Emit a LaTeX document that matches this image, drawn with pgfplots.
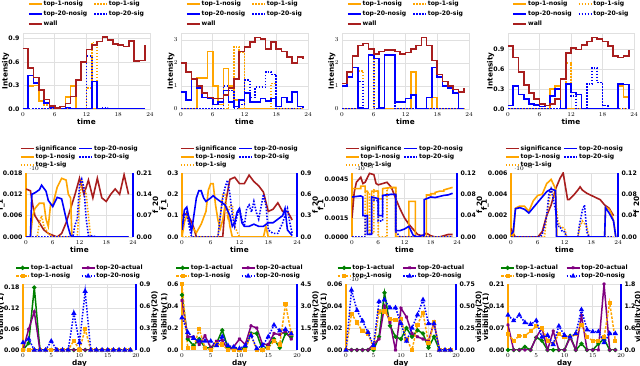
\documentclass[border=0pt]{standalone}
\usepackage{fontspec}
\setmainfont{DejaVu Sans}
\usepackage{pgfplots}
\pgfplotsset{compat=1.18}
\definecolor{orC}{RGB}{255,165,0}
\definecolor{blC}{RGB}{0,0,255}
\definecolor{wallC}{RGB}{168,30,30}
\definecolor{grC}{RGB}{0,128,0}
\definecolor{puC}{RGB}{128,0,128}
\newcommand\tfs{\fontsize{6.2}{7}\bfseries\selectfont}
\newcommand\lfs{\fontsize{7.3}{8.5}\bfseries\selectfont}
\newcommand\gfs{\fontsize{6.1}{7}\bfseries\selectfont}
\pgfplotsset{
  base/.style={scale only axis, anchor=south west, axis line style={black!12},
    grid=major, grid style={black!12, line width=0.7pt}, major tick length=0pt,
    tick label style={font=\tfs}, label style={font=\lfs},
    xlabel shift=-4pt, ylabel shift=-7.5pt,
    legend cell align=left, legend columns=2,
    legend style={draw=none, fill=none, font=\gfs, inner sep=0pt, row sep=1pt,
      nodes={inner sep=1pt}},
    legend image code/.code={\draw[mark repeat=2,mark phase=2,#1] plot coordinates {(0pt,0pt) (6.5pt,0pt) (13pt,0pt)};}},
  rside/.style={scale only axis, anchor=south west, axis x line=none, axis y line*=right,
    y axis line style={blC, line width=1.8pt}, major tick length=0pt,
    tick label style={font=\tfs}, label style={font=\lfs}, ymin=0, ylabel shift=-6pt,
    legend cell align=left, legend columns=2,
    legend style={draw=none, fill=none, font=\gfs, inner sep=0pt, row sep=0.2pt,
      nodes={inner sep=1pt}},
    legend image code/.code={\draw[mark repeat=2,mark phase=2,#1] plot coordinates {(0pt,0pt) (6.5pt,0pt) (13pt,0pt)};}},
  r1/.style={base, xmin=0, xmax=24, xtick={0,6,...,24}, xlabel=time, ylabel=Intensity, ymin=0,
    legend style={at={(0.5,1.44)}, anchor=north, row sep=2pt,
      /tikz/every even column/.append style={column sep=5pt}}},
  r2/.style={base, xmin=0, xmax=24, xtick={0,6,...,24}, xlabel=time, ymin=0,
    ylabel={f\_1}, separate axis lines, y axis line style={orC, line width=1.8pt}},
  r2R/.style={rside, xmin=0, xmax=24, ylabel={f\_20},
    legend style={at={(0.5,1.45)}, anchor=north,
      /tikz/every even column/.append style={column sep=1pt}}},
  r3/.style={base, xmin=0, xmax=20, xtick={0,5,...,20}, xlabel=day, ymin=0,
    ylabel={visibility(1)}, separate axis lines, y axis line style={orC, line width=1.8pt}},
  r3R/.style={rside, xmin=0, xmax=20, ylabel={visibility(20)},
    legend style={at={(0.5,1.31)}, anchor=north,
      /tikz/every even column/.append style={column sep=7pt}}},
  wl/.style={wallC, line width=1.6pt, mark=none},
  os/.style={orC, line width=1.6pt, mark=none},
  od/.style={orC, line width=1.6pt, dash pattern=on 1.5pt off 1.5pt, mark=none},
  bs/.style={blC, line width=1.6pt, mark=none},
  bd/.style={blC, line width=1.6pt, dash pattern=on 1.5pt off 1.5pt, mark=none},
  ga/.style={grC, line width=1.5pt, mark=*, mark size=1.3pt},
  pa/.style={puC, line width=1.5pt, mark=x, mark size=1.6pt},
  on/.style={orC, line width=1.5pt, dash pattern=on 2.5pt off 1.5pt, mark=square*, mark size=1.3pt, mark options={solid}},
  bn/.style={blC, line width=1.5pt, dash pattern=on 1.5pt off 1.5pt, mark=triangle*, mark size=1.6pt, mark options={solid}},
}
\begin{document}
\begin{tikzpicture}
\useasboundingbox (0,0) rectangle (640pt,366pt);
%% ---------- row 1 ----------
\begin{axis}[r1, at={(23pt,257pt)}, width=127pt, height=76pt, ymax=0.97,
  ytick={0,0.3,0.6,0.9}, yticklabels={0.0,0.3,0.6,0.9}]
\addplot[os, const plot] coordinates {(0,0)(1,0.29)(2,0.30)(3,0.10)(4,0.07)(5,0.02)(6,0)(7,0)(8,0.15)(9,0.29)(10,0)(11,0)(12,0)(13,0)(14,0)(15,0)(16,0)(17,0)(18,0)(19,0)(20,0)(21,0)(22,0)(23,0)};
\addlegendentry{top-1-nosig}
\addplot[od, const plot] coordinates {(0,0)(1,0)(2,0)(3,0)(4,0.05)(5,0)(6,0)(7,0)(8,0)(9,0)(10,0)(11,0)(12,0.27)(13,0.85)(14,0)(15,0)(16,0)(17,0)(18,0)(19,0)(20,0)(21,0)(22,0)(23,0)};
\addlegendentry{top-1-sig}
\addplot[bs, const plot] coordinates {(0,0)(1,0.43)(2,0.33)(3,0.25)(4,0.08)(5,0.02)(6,0)(7,0)(8,0.02)(9,0)(10,0)(11,0)(12,0)(13,0.35)(14,0)(15,0)(16,0)(17,0)(18,0)(19,0)(20,0)(21,0)(22,0)(23,0)};
\addlegendentry{top-20-nosig}
\addplot[bd, const plot] coordinates {(0,0)(1,0)(2,0)(3,0)(4,0)(5,0)(6,0)(7,0)(8,0)(9,0)(10,0)(11,0)(12,0.68)(13,0.35)(14,0)(15,0.01)(16,0)(17,0)(18,0)(19,0)(20,0)(21,0)(22,0)(23,0)};
\addlegendentry{top-20-sig}
\addplot[wl, const plot] coordinates {(0,0.77)(1,0.52)(2,0.40)(3,0.24)(4,0.12)(5,0.04)(6,0.01)(7,0.03)(8,0.07)(9,0.16)(10,0.37)(11,0.60)(12,0.76)(13,0.82)(14,0.86)(15,0.92)(16,0.88)(17,0.83)(18,0.82)(19,0.80)(20,0.87)(21,0.61)(22,0.62)(23,0.82)};
\addlegendentry{wall}
\end{axis}

\begin{axis}[r1, at={(181pt,257pt)}, width=127pt, height=76pt, ymax=3.3,
  ytick={0,1,2,3}]
\addplot[os, const plot] coordinates {(0,0)(1,0)(2,0)(3,1.35)(4,1.35)(5,2.5)(6,1.0)(7,0.2)(8,1.75)(9,1.0)(10,0.4)(11,0)(12,0)(13,0)(14,0)(15,0)(16,0)(17,0)(18,0)(19,0)(20,0)(21,0)(22,0)(23,0)};
\addlegendentry{top-1-nosig}
\addplot[od, const plot] coordinates {(0,0)(1,0)(2,0)(3,0)(4,0)(5,0)(6,0)(7,0)(8,0)(9,0.3)(10,2.7)(11,2.45)(12,0)(13,0)(14,0)(15,0)(16,0)(17,1.1)(18,0)(19,0)(20,0)(21,0)(22,0)(23,0)};
\addlegendentry{top-1-sig}
\addplot[bs, const plot] coordinates {(0,0.75)(1,0.4)(2,1.3)(3,0.9)(4,0.5)(5,0.45)(6,0.2)(7,0.3)(8,0.8)(9,0.3)(10,0.1)(11,0.4)(12,0.7)(13,0.3)(14,0.3)(15,0.45)(16,0.35)(17,0.45)(18,0.1)(19,0.5)(20,0.3)(21,0.75)(22,0.1)(23,0.05)};
\addlegendentry{top-20-nosig}
\addplot[bd, const plot] coordinates {(0,0)(1,0)(2,0)(3,0)(4,0)(5,0)(6,0)(7,0)(8,1.0)(9,0.8)(10,0)(11,0.2)(12,1.25)(13,0.5)(14,0.95)(15,0.95)(16,1.6)(17,1.5)(18,0)(19,0)(20,0)(21,0)(22,0)(23,0)};
\addlegendentry{top-20-sig}
\addplot[wl, const plot] coordinates {(0,2.0)(1,1.6)(2,1.3)(3,1.0)(4,0.7)(5,0.5)(6,0.45)(7,0.45)(8,0.6)(9,0.9)(10,1.3)(11,2.5)(12,2.7)(13,2.9)(14,3.1)(15,3.05)(16,2.6)(17,2.9)(18,2.6)(19,2.5)(20,2.25)(21,2.0)(22,2.25)(23,2.15)};
\addlegendentry{wall}
\end{axis}

\begin{axis}[r1, at={(342pt,257pt)}, width=127pt, height=76pt, ymax=3.3,
  ytick={0,1,2,3}]
\addplot[os, const plot] coordinates {(0,0)(1,0)(2,0)(3,0)(4,0)(5,2.35)(6,2.2)(7,0)(8,0)(9,0)(10,0)(11,0)(12,0)(13,1.6)(14,0)(15,0)(16,0)(17,0.5)(18,0)(19,0)(20,0)(21,0)(22,0)(23,0)};
\addlegendentry{top-1-nosig}
\addplot[od, const plot] coordinates {(0,0)(1,0)(2,0)(3,1.65)(4,0)(5,2.35)(6,0)(7,0)(8,2.35)(9,2.35)(10,0)(11,0)(12,0)(13,0)(14,0)(15,0)(16,0)(17,0)(18,0)(19,0)(20,0)(21,0)(22,0)(23,0)};
\addlegendentry{top-1-sig}
\addplot[bs, const plot] coordinates {(0,1.0)(1,1.4)(2,1.8)(3,0.05)(4,0)(5,2.35)(6,2.2)(7,0.05)(8,2.35)(9,2.35)(10,0.3)(11,0.3)(12,0.45)(13,0.6)(14,0)(15,0)(16,0.5)(17,1.8)(18,1.4)(19,1.0)(20,0.9)(21,0.7)(22,0)(23,0)};
\addlegendentry{top-20-nosig}
\addplot[bd, const plot] coordinates {(0,0)(1,0)(2,0)(3,1.2)(4,0)(5,2.35)(6,0)(7,0)(8,2.35)(9,2.35)(10,0)(11,0)(12,0)(13,0)(14,0)(15,0)(16,0)(17,0)(18,0)(19,0)(20,0)(21,0)(22,0)(23,0)};
\addlegendentry{top-20-sig}
\addplot[wl, const plot] coordinates {(0,1.1)(1,1.6)(2,2.3)(3,2.75)(4,2.85)(5,2.6)(6,2.4)(7,2.5)(8,2.55)(9,2.55)(10,2.5)(11,2.4)(12,2.45)(13,2.6)(14,2.75)(15,3.1)(16,2.75)(17,2.1)(18,1.5)(19,1.2)(20,1.0)(21,0.85)(22,0.75)(23,0.9)};
\addlegendentry{wall}
\end{axis}

\begin{axis}[r1, at={(508pt,257pt)}, width=126pt, height=76pt, ymax=1.15,
  ytick={0,0.3,0.6,0.9}, yticklabels={0.0,0.3,0.6,0.9}]
\addplot[os, const plot] coordinates {(0,0)(1,0)(2,0)(3,0)(4,0)(5,0)(6,0)(7,0)(8,0.3)(9,0.35)(10,0)(11,0)(12,0)(13,0)(14,0)(15,0)(16,0)(17,0)(18,0)(19,0)(20,0)(21,0.35)(22,0.18)(23,0)};
\addlegendentry{top-1-nosig}
\addplot[od, const plot] coordinates {(0,0)(1,0)(2,0)(3,0)(4,0)(5,0)(6,0)(7,0)(8,0)(9,0)(10,0)(11,0.7)(12,0.25)(13,0.22)(14,0)(15,0)(16,0)(17,0)(18,0)(19,0)(20,0)(21,0)(22,0)(23,0)};
\addlegendentry{top-1-sig}
\addplot[bs, const plot] coordinates {(0,0.05)(1,0.35)(2,0.22)(3,0.15)(4,0.08)(5,0.06)(6,0.04)(7,0.05)(8,0.2)(9,0.3)(10,0)(11,0.38)(12,0.25)(13,0.22)(14,0)(15,0)(16,0)(17,0)(18,0)(19,0)(20,0)(21,0.38)(22,0.37)(23,0)};
\addlegendentry{top-20-nosig}
\addplot[bd, const plot] coordinates {(0,0)(1,0)(2,0)(3,0)(4,0)(5,0)(6,0)(7,0)(8,0)(9,0)(10,0)(11,0.38)(12,0.2)(13,0)(14,0)(15,0.38)(16,0.62)(17,0.4)(18,0.05)(19,0)(20,0)(21,0)(22,0)(23,0)};
\addlegendentry{top-20-sig}
\addplot[wl, const plot] coordinates {(0,0.95)(1,0.78)(2,0.56)(3,0.36)(4,0.24)(5,0.15)(6,0.08)(7,0.05)(8,0.08)(9,0.15)(10,0.45)(11,0.85)(12,0.92)(13,0.90)(14,0.97)(15,1.02)(16,1.08)(17,1.06)(18,1.02)(19,0.95)(20,0.80)(21,0.78)(22,0.80)(23,0.90)};
\addlegendentry{wall}
\end{axis}

%% ---------- row 2 ----------
\begin{axis}[r2, at={(26pt,129pt)}, width=107pt, height=64pt, ymax=0.018,
  ytick={0,0.006,0.012,0.018}, yticklabels={0.000,0.006,0.012,0.018}, ylabel shift=-8.5pt]
\addplot[wl] coordinates {(0,0.0135)(1,0.013)(1.5,0.009)(2,0.006)(3,0.004)(4,0.002)(5,0.001)(6,0.0005)(7,0)(8,0.001)(9,0.004)(10,0.008)(11,0.012)(12,0.0165)(13,0.012)(14,0.016)(15,0.011)(16,0.0165)(17,0.011)(18,0.010)(19,0.012)(20,0.0135)(21,0.012)(22,0.0175)(23,0.012)};
\addplot[os] coordinates {(0,0)(1,0)(1.5,0.006)(2,0.008)(3,0.0095)(4,0.0095)(4.5,0.005)(5,0.003)(5.5,0.009)(6,0.009)(7,0.014)(8,0.0165)(9,0.016)(9.5,0.012)(10,0.011)(10.3,0)(23,0)};
\addplot[od] coordinates {(0,0)(2.5,0)(3,0.004)(3.5,0.006)(4,0.003)(5,0.001)(6,0)(11.5,0)(12,0.010)(12.5,0.016)(13,0.014)(13.5,0.012)(14,0.006)(14.5,0)(23,0)};
\end{axis}
\begin{axis}[r2R, at={(26pt,129pt)}, width=107pt, height=64pt, ymax=0.21,
  ytick={0,0.07,0.14,0.21}, yticklabels={0.00,0.07,0.14,0.21}]
\addlegendimage{wl}\addlegendentry{significance}
\addplot[bs] coordinates {(0,0)(1,0)(1.3,0.14)(2,0.145)(3,0.155)(3.5,0.17)(4,0.16)(4.5,0.15)(5,0.12)(6,0.10)(7,0.13)(8,0.125)(9,0.06)(9.5,0.03)(10,0.005)(10.5,0)(23,0)};
\addlegendentry{top-20-nosig}
\addlegendimage{os}\addlegendentry{top-1-nosig}
\addplot[bd] coordinates {(0,0)(10.5,0)(11,0.04)(11.5,0.06)(12,0.17)(12.5,0.19)(13,0.16)(13.5,0.06)(14,0.005)(15,0.003)(16,0)(23,0)};
\addlegendentry{top-20-sig}
\addlegendimage{od}\addlegendentry{top-1-sig}
\end{axis}

\begin{axis}[r2, at={(182pt,129pt)}, width=115pt, height=64pt, ymax=0.3,
  ytick={0,0.1,0.2,0.3}, yticklabels={0.0,0.1,0.2,0.3}]
\addplot[wl] coordinates {(0,0.1)(1,0.11)(2,0.07)(2.5,0.04)(3,0)(8.5,0)(9,0.15)(10,0.27)(11,0.28)(12,0.25)(13,0.25)(14,0.29)(15,0.26)(16,0.24)(17,0.21)(18,0.12)(19,0.13)(20,0.16)(21,0.12)(22,0.12)(23,0.08)};
\addplot[os] coordinates {(0,0)(0.5,0.07)(1,0.1)(1.5,0.07)(2,0.05)(3,0.02)(4,0.06)(5,0.12)(5.5,0.22)(6,0.25)(6.5,0.25)(7,0.15)(7.5,0.08)(8,0.04)(8.5,0.08)(9,0.15)(9.5,0.13)(10,0.05)(10.5,0)(17,0)(17.5,0.05)(18,0)(23,0)};
\addplot[od] coordinates {(0,0)(7.5,0)(8,0.1)(8.5,0.2)(9,0.2)(9.5,0.1)(10,0.15)(10.5,0.15)(11,0.05)(12,0)(23,0)};
\end{axis}
\begin{axis}[r2R, at={(182pt,129pt)}, width=115pt, height=64pt, ymax=0.9,
  ytick={0,0.3,0.6,0.9}, yticklabels={0.0,0.3,0.6,0.9}]
\addlegendimage{wl}\addlegendentry{significance}
\addplot[bs] coordinates {(0,0.1)(0.5,0.38)(1,0.42)(1.5,0.25)(2,0.08)(3,0.55)(3.5,0.65)(4,0.65)(4.5,0.55)(5,0.5)(6,0.55)(6.5,0.58)(7,0.55)(8,0.5)(9,0.45)(10,0.3)(10.5,0.15)(11,0.2)(11.5,0.35)(12,0.4)(12.5,0.2)(13,0.15)(14,0.15)(15,0.18)(16,0.15)(17,0.15)(18,0.2)(19,0.2)(20,0.25)(21,0.3)(21.5,0.4)(22,0.1)(23,0.02)};
\addlegendentry{top-20-nosig}
\addlegendimage{os}\addlegendentry{top-1-nosig}
\addplot[bd] coordinates {(0,0.1)(0.5,0.3)(1,0.35)(1.5,0.15)(2,0)(7.5,0)(8,0.3)(8.5,0.55)(9,0.7)(9.5,0.8)(10,0.6)(10.5,0.3)(11,0.15)(11.5,0.3)(12,0.4)(12.5,0.25)(13,0.15)(13.5,0.4)(14,0.45)(14.5,0.35)(15,0.5)(15.5,0.35)(16,0.25)(17,0.6)(17.5,0.45)(18,0.1)(19,0.05)(20,0.05)(21,0.2)(22,0.4)(22.5,0.2)(23,0.05)};
\addlegendentry{top-20-sig}
\addlegendimage{od}\addlegendentry{top-1-sig}
\end{axis}

\begin{axis}[r2, at={(352pt,129pt)}, width=105pt, height=64pt, ymax=0.00503,
  ytick={0,0.0015,0.003,0.0045}, yticklabels={0.0000,0.0015,0.0030,0.0045}]
\addplot[wl] coordinates {(0,0.0015)(0.5,0.0035)(1,0.0043)(2,0.0047)(2.5,0.0042)(3,0.0043)(4,0.0050)(5,0.0049)(5.5,0.0042)(6,0.0041)(7,0.0042)(8,0.0043)(9,0.0039)(10,0.0030)(11,0.0022)(12,0.0015)(13,0.0010)(14,0.0006)(15,0.0002)(16,0.0001)(17,0.0003)(18,0.0001)(19,0)(20,0)(21,0.0001)(22,0.0002)(23,0.0002)};
\addplot[os] coordinates {(0,0.0038)(2,0.0038)(2,0.004)(3,0.004)(3,0.0036)(3.5,0.0036)(3.5,0.0005)(4.5,0.0005)(4.5,0.0036)(6,0.0036)(6,0.003)(7,0.003)(7,0.0038)(9,0.0039)(10,0.0039)(10,0)(13,0)(13,0.0028)(14.5,0.0028)(14.5,0)(17,0)(17,0.0033)(18,0.0033)(18,0.0034)(19,0.0034)(19,0.0035)(20,0.0036)(21,0.0036)(21,0.0037)(22,0.0038)(23,0.0039)};
\addplot[od] coordinates {(0,0)(3,0)(3,0.0035)(4,0.0035)(4,0.0003)(5,0.0003)(5,0.0037)(6,0.0036)(6,0)(8,0)(8,0.0038)(10,0.0039)(10,0)(23,0)};
\end{axis}
\begin{axis}[r2R, at={(352pt,129pt)}, width=105pt, height=64pt, ymax=0.12,
  ytick={0,0.04,0.08,0.12}, yticklabels={0.00,0.04,0.08,0.12}]
\addlegendimage{wl}\addlegendentry{significance}
\addplot[bs] coordinates {(0,0.075)(2,0.077)(2.5,0.075)(2.5,0.04)(3.5,0.04)(3.5,0.005)(4.5,0.005)(4.5,0.075)(6,0.072)(6,0.04)(7,0.04)(7,0.078)(9,0.08)(10,0.08)(10,0.012)(11,0.012)(12,0.015)(13,0.02)(14,0.003)(15,0)(16,0.003)(16.5,0.003)(16.5,0.07)(18,0.075)(19,0.074)(20,0.076)(21,0.078)(22,0.079)(23,0.082)};
\addlegendentry{top-20-nosig}
\addlegendimage{os}\addlegendentry{top-1-nosig}
\addplot[bd] coordinates {(0,0)(3,0)(3,0.04)(3.5,0.04)(3.5,0.005)(4.5,0.005)(4.5,0.07)(6,0.068)(6,0.03)(7,0.03)(7,0.077)(9,0.08)(10,0.08)(10,0.01)(11,0)(23,0)};
\addlegendentry{top-20-sig}
\addlegendimage{od}\addlegendentry{top-1-sig}
\end{axis}

\begin{axis}[r2, at={(511pt,129pt)}, width=107pt, height=64pt, ymax=0.006,
  ytick={0,0.002,0.004,0.006}, yticklabels={0.000,0.002,0.004,0.006}]
\addplot[wl] coordinates {(0,0.0008)(0.5,0.0003)(1,0)(6,0)(7,0.0005)(8,0.002)(9,0.003)(10,0.0045)(11,0.0055)(11.7,0.006)(12.3,0.0045)(12.7,0.0035)(13,0.0035)(14,0.0039)(15,0.0044)(15.5,0.0047)(16,0.0044)(17,0.0041)(18,0.0039)(19,0.0037)(20,0.0035)(21,0.0030)(22,0.0027)(23,0.002)};
\addplot[os] coordinates {(0,0.0003)(0.5,0)(1,0.0027)(2,0.0029)(3,0.0029)(4,0.0024)(5,0.0034)(6,0.0039)(7,0.0040)(8,0.0050)(9,0.0054)(10,0.0045)(10.3,0)(21,0)(21.2,0.0028)(22,0.0026)(22.5,0.0022)(23,0.0015)(23.5,0)};
\addplot[od] coordinates {(0,0)(7.5,0)(8,0.002)(9,0.0045)(9.5,0.004)(10,0.0035)(10.5,0.0015)(11,0.001)(12,0.0008)(12.5,0)(15,0)(15.5,0.001)(16,0.0015)(17,0.001)(17.5,0)(23,0)};
\end{axis}
\begin{axis}[r2R, at={(511pt,129pt)}, width=107pt, height=64pt, ymax=0.12,
  ytick={0,0.04,0.08,0.12}, yticklabels={0.00,0.04,0.08,0.12}, ylabel shift=-10pt]
\addlegendimage{wl}\addlegendentry{significance}
\addplot[bs] coordinates {(0,0.005)(0.5,0.01)(1,0.053)(2,0.055)(3,0.052)(4,0.045)(5,0.055)(6,0.065)(7,0.075)(8,0.085)(9,0.09)(10,0.087)(10.2,0)(21,0)(21.2,0.055)(22,0.045)(23,0.03)(23.5,0)};
\addlegendentry{top-20-nosig}
\addlegendimage{os}\addlegendentry{top-1-nosig}
\addplot[bd] coordinates {(0,0)(6.5,0)(7,0.005)(7.5,0.02)(8,0.04)(8.5,0.08)(9,0.09)(9.5,0.07)(10,0.05)(10.5,0.02)(11,0.02)(11.5,0.01)(12,0.01)(12.5,0)(15,0)(15.3,0.02)(16,0.05)(16.5,0.06)(17,0.01)(17.5,0)(23,0)};
\addlegendentry{top-20-sig}
\addlegendimage{od}\addlegendentry{top-1-sig}
\end{axis}

%% ---------- row 3 ----------
\begin{axis}[r3, at={(23pt,16pt)}, width=113pt, height=66pt, ymax=0.19,
  ytick={0,0.06,0.12,0.18}, yticklabels={0.00,0.06,0.12,0.18}]
\addplot[ga] coordinates {(0,0)(1,0.02)(2,0.18)(3,0)(4,0)(5,0)(6,0)(7,0)(8,0)(9,0)(10,0)(11,0)(12,0)(13,0)(14,0)(15,0)(16,0)(17,0)(18,0)(19,0)};
\addplot[pa] coordinates {(0,0)(1,0.06)(2,0.11)(3,0)(4,0)(5,0)(6,0)(7,0)(8,0)(9,0)(10,0)(11,0)(12,0)(13,0)(14,0)(15,0)(16,0)(17,0)(18,0)(19,0)};
\addplot[on] coordinates {(0,0)(1,0)(2,0)(3,0)(4,0)(5,0)(6,0)(7,0)(8,0)(9,0.027)(10,0)(11,0.06)(12,0)(13,0)(14,0)(15,0)(16,0)(17,0)(18,0)(19,0)};
\end{axis}
\begin{axis}[r3R, at={(23pt,16pt)}, width=113pt, height=66pt, ymax=0.9,
  ytick={0,0.3,0.6,0.9}, yticklabels={0.0,0.3,0.6,0.9}]
\addlegendimage{ga}\addlegendentry{top-1-actual}
\addlegendimage{pa}\addlegendentry{top-20-actual}
\addlegendimage{on}\addlegendentry{top-1-nosig}
\addplot[bn] coordinates {(0,0.1)(1,0.15)(2,0)(3,0)(4,0)(5,0.12)(6,0)(7,0)(8,0)(9,0.5)(10,0.1)(11,0.8)(12,0)(13,0)(14,0)(15,0)(16,0)(17,0)(18,0)(19,0)};
\addlegendentry{top-20-nosig}
\end{axis}

\begin{axis}[r3, at={(182pt,16pt)}, width=115pt, height=66pt, ymax=0.6,
  ytick={0,0.2,0.4,0.6}, yticklabels={0.0,0.2,0.4,0.6}]
\addplot[ga] coordinates {(0,0.5)(1,0.1)(2,0.04)(3,0.1)(4,0.02)(5,0.02)(6,0.06)(7,0.18)(8,0.02)(9,0.02)(10,0)(11,0.02)(12,0.15)(13,0.15)(14,0)(15,0.04)(16,0.1)(17,0.02)(18,0.15)(19,0.12)};
\addplot[pa] coordinates {(0,0.45)(1,0.12)(2,0.12)(3,0.05)(4,0.13)(5,0.02)(6,0.08)(7,0.09)(8,0)(9,0.03)(10,0.1)(11,0.05)(12,0.22)(13,0.2)(14,0.05)(15,0.05)(16,0.15)(17,0.14)(18,0.17)(19,0.1)};
\addplot[on] coordinates {(0,0.6)(1,0.02)(2,0.02)(3,0.19)(4,0.02)(5,0)(6,0.05)(7,0.05)(8,0)(9,0)(10,0)(11,0)(12,0.14)(13,0)(14,0)(15,0.02)(16,0.08)(17,0.05)(18,0.42)(19,0.15)};
\end{axis}
\begin{axis}[r3R, at={(182pt,16pt)}, width=115pt, height=66pt, ymax=4.5,
  ytick={0,1.5,3,4.5}, yticklabels={0.0,1.5,3.0,4.5}]
\addlegendimage{ga}\addlegendentry{top-1-actual}
\addlegendimage{pa}\addlegendentry{top-20-actual}
\addlegendimage{on}\addlegendentry{top-1-nosig}
\addplot[bn] coordinates {(0,2.2)(1,1.2)(2,0.8)(3,0.6)(4,0.6)(5,0.6)(6,0.3)(7,0.9)(8,0.3)(9,0.2)(10,0.1)(11,0.3)(12,1.0)(13,0.1)(14,0.3)(15,0.9)(16,1.7)(17,1.3)(18,1.4)(19,1.1)};
\addlegendentry{top-20-nosig}
\end{axis}

\begin{axis}[r3, at={(346pt,16pt)}, width=110pt, height=66pt, ymax=0.06,
  ytick={0,0.02,0.04,0.06}, yticklabels={0.00,0.02,0.04,0.06}]
\addplot[ga] coordinates {(0,0)(1,0)(2,0)(3,0)(4,0)(5,0)(6,0.012)(7,0.052)(8,0.022)(9,0.012)(10,0.01)(11,0.02)(12,0.012)(13,0.018)(14,0.015)(15,0.002)(16,0.012)(17,0)(18,0)(19,0)};
\addplot[pa] coordinates {(0,0)(1,0)(2,0)(3,0)(4,0)(5,0.005)(6,0.01)(7,0.04)(8,0.025)(9,0)(10,0.038)(11,0.03)(12,0.015)(13,0.012)(14,0.01)(15,0.008)(16,0.025)(17,0)(18,0)(19,0)};
\addplot[on] coordinates {(0,0)(1,0.033)(2,0.025)(3,0.017)(4,0.015)(5,0.002)(6,0.035)(7,0.035)(8,0.028)(9,0.027)(10,0.028)(11,0.01)(12,0)(13,0.023)(14,0.034)(15,0.006)(16,0.025)(17,0)(18,0)(19,0)};
\end{axis}
\begin{axis}[r3R, at={(346pt,16pt)}, width=110pt, height=66pt, ymax=0.75,
  ytick={0,0.25,0.5,0.75}, yticklabels={0.00,0.25,0.50,0.75}]
\addlegendimage{ga}\addlegendentry{top-1-actual}
\addlegendimage{pa}\addlegendentry{top-20-actual}
\addlegendimage{on}\addlegendentry{top-1-nosig}
\addplot[bn] coordinates {(0,0)(1,0.68)(2,0.45)(3,0.33)(4,0.2)(5,0.05)(6,0.55)(7,0.57)(8,0.48)(9,0.48)(10,0.3)(11,0.1)(12,0.25)(13,0.4)(14,0.57)(15,0.3)(16,0.3)(17,0)(18,0)(19,0)};
\addlegendentry{top-20-nosig}
\end{axis}

\begin{axis}[r3, at={(508pt,16pt)}, width=113pt, height=66pt, ymax=0.21,
  ytick={0,0.07,0.14,0.21}, yticklabels={0.00,0.07,0.14,0.21}]
\addplot[ga] coordinates {(0,0)(1,0)(2,0)(3,0.01)(4,0)(5,0.04)(6,0.03)(7,0)(8,0)(9,0)(10,0)(11,0.045)(12,0)(13,0.02)(14,0)(15,0)(16,0.02)(17,0.035)(18,0)(19,0)};
\addplot[pa] coordinates {(0,0.08)(1,0)(2,0)(3,0)(4,0)(5,0.04)(6,0.07)(7,0)(8,0.06)(9,0)(10,0)(11,0.04)(12,0)(13,0.11)(14,0)(15,0)(16,0)(17,0.21)(18,0)(19,0)};
\addplot[on] coordinates {(0,0.05)(1,0.03)(2,0.045)(3,0.045)(4,0.06)(5,0.075)(6,0.07)(7,0.03)(8,0.02)(9,0.05)(10,0.04)(11,0.04)(12,0.05)(13,0.08)(14,0.04)(15,0.03)(16,0.03)(17,0.04)(18,0.15)(19,0.03)};
\end{axis}
\begin{axis}[r3R, at={(508pt,16pt)}, width=113pt, height=66pt, ymax=1.8,
  ytick={0,0.6,1.2,1.8}, yticklabels={0.0,0.6,1.2,1.8}, ylabel shift=-7.5pt]
\addlegendimage{ga}\addlegendentry{top-1-actual}
\addlegendimage{pa}\addlegendentry{top-20-actual}
\addlegendimage{on}\addlegendentry{top-1-nosig}
\addplot[bn] coordinates {(0,0.95)(1,0.8)(2,0.95)(3,0.75)(4,0.7)(5,0.8)(6,0.35)(7,0.4)(8,0.15)(9,0.65)(10,0.4)(11,0.35)(12,0.45)(13,1.1)(14,0.55)(15,0.5)(16,0.5)(17,0.2)(18,0.45)(19,0.45)};
\addlegendentry{top-20-nosig}
\end{axis}
\end{tikzpicture}
\end{document}
